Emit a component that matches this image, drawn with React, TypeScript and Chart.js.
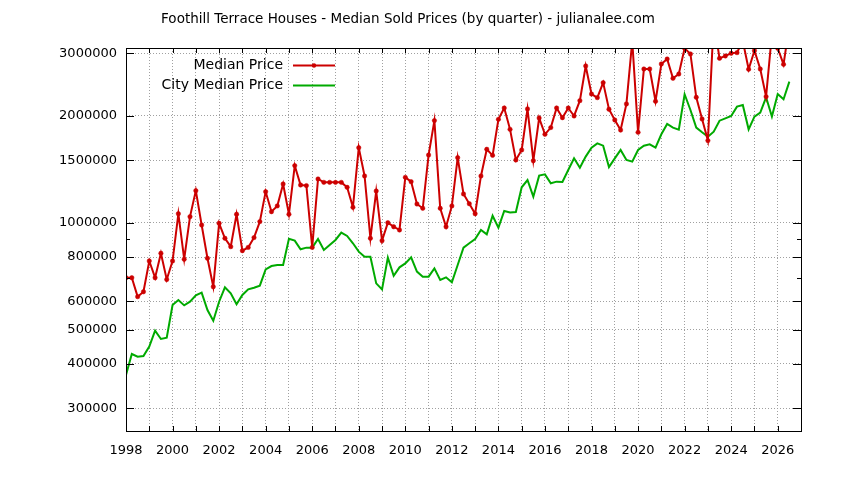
import React, { useEffect, useRef } from "react";
import { Chart, registerables } from "chart.js";

Chart.register(...registerables);

const TITLE = "Foothill Terrace Houses - Median Sold Prices (by quarter) - julianalee.com";
const SERIES_NAMES = ["Median Price", "City Median Price"];
const SERIES_COLORS = ["#cc0000", "#00aa00"];

// one value per quarter, starting with the first quarter of 1998
const FIRST_YEAR = 1998;

const medianPrice = [
  700000, 700000, 619000, 639000,
  780000, 700000, 820000, 692000,
  780000, 1060000, 789000, 1040000,
  1231000, 985000, 794000, 660000,
  996000, 904000, 856000, 1056000,
  834000, 852000, 908000, 1007000,
  1223000, 1074000, 1115000, 1285000,
  1056000, 1448000, 1277000, 1272000,
  852000, 1328000, 1299000, 1299000,
  1299000, 1299000, 1258000, 1105000,
  1627000, 1354000, 904000, 1228000,
  890000, 1000000, 974000, 954000,
  1342000, 1305000, 1129000, 1098000,
  1551000, 1939000, 1098000, 974000,
  1115000, 1525000, 1205000, 1131000,
  1060000, 1354000, 1610000, 1548000,
  1955000, 2104000, 1832000, 1502000,
  1603000, 2091000, 1495000, 1972000,
  1774000, 1853000, 2104000, 1976000,
  2104000, 1998000, 2207000, 2763000,
  2304000, 2250000, 2480000, 2087000,
  1947000, 1824000, 2160000, 3250000,
  1797000, 2710000, 2710000, 2198000,
  2799000, 2891000, 2551000, 2623000,
  3099000, 2987000, 2255000, 1959000,
  1703000, 3700000, 2904000, 2949000,
  3000000, 3013000, 3250000, 2705000,
  3052000, 2710000, 2265000, 3400000,
  3100000, 2793000, 3600000,
];

const cityMedianPrice = [
  372600, 426700, 419300, 421000,
  447600, 496500, 470400, 474500,
  586500, 605700, 585000, 599000,
  624200, 635100, 567600, 529500,
  599000, 657700, 632400, 589000,
  625700, 649000, 656000, 664600,
  738900, 755000, 760300, 760300,
  901400, 890000, 841500, 850700,
  850700, 899500, 837900, 865400,
  894000, 937500, 917500, 875100,
  828900, 802300, 802300, 674800,
  649000, 797000, 709100, 748600,
  768200, 799000, 728100, 704700,
  704700, 743600, 689700, 701700,
  679200, 760300, 850700, 875100,
  899500, 953800, 927400, 1046000,
  968500, 1079000, 1069000, 1072000,
  1258000, 1319000, 1184000, 1357000,
  1368000, 1291000, 1305000, 1302000,
  1407000, 1518000, 1429000, 1535000,
  1627000, 1673000, 1648000, 1435000,
  1518000, 1603000, 1502000, 1486000,
  1603000, 1648000, 1663000, 1627000,
  1774000, 1897000, 1853000, 1829000,
  2300000, 2077000, 1853000, 1797000,
  1747000, 1805000, 1938000, 1968000,
  1998000, 2123000, 2146000, 1832000,
  1990000, 2042000, 2255000, 1990000,
  2304000, 2226000, 2496000,
];

const yTickValues = [300000, 400000, 500000, 600000, 800000, 1000000, 1500000, 2000000, 3000000];
const yMinorTicks = [700000, 900000];
const X_MIN = 1998;
const X_MAX = 2027;
const Y_MIN = 259000;
const Y_MAX = 3105000;

const FONT = "DejaVu Sans";

const toPoints = (values: number[]) =>
  values.map((v, i) => ({ x: FIRST_YEAR + i / 4, y: v }));

// gnuplot-like frame: border, inward ticks on all sides, key and title
const framePlugin = {
  id: "gnuplotFrame",
  afterDraw(chart: any) {
    const { ctx, chartArea: a, scales } = chart;
    const xs = scales.x;
    const ys = scales.y;
    ctx.save();
    ctx.strokeStyle = "#000";
    ctx.lineWidth = 1;
    ctx.beginPath();
    const yTick = (v: number, len: number) => {
      const y = Math.round(ys.getPixelForValue(v)) + 0.5;
      ctx.moveTo(a.left, y);
      ctx.lineTo(a.left + len, y);
      ctx.moveTo(a.right, y);
      ctx.lineTo(a.right - len, y);
    };
    yTickValues.forEach((v) => yTick(v, 8));
    yMinorTicks.forEach((v) => yTick(v, 4));
    for (let yr = X_MIN + 1; yr < X_MAX; yr++) {
      const x = Math.round(xs.getPixelForValue(yr)) + 0.5;
      ctx.moveTo(x, a.bottom);
      ctx.lineTo(x, a.bottom - 5);
      ctx.moveTo(x, a.top);
      ctx.lineTo(x, a.top + 5);
    }
    ctx.stroke();
    ctx.strokeRect(
      Math.round(a.left) + 0.5,
      Math.round(a.top) + 0.5,
      Math.round(a.right - a.left),
      Math.round(a.bottom - a.top)
    );

    ctx.fillStyle = "#000";
    ctx.textBaseline = "middle";
    ctx.textAlign = "center";
    ctx.font = `13.5px "${FONT}"`;
    ctx.fillText(TITLE, 408, 19);

    // key
    ctx.font = `14px "${FONT}"`;
    const rows = [65.5, 85.5];
    SERIES_NAMES.forEach((name, i) => {
      const y = rows[i];
      ctx.textAlign = "right";
      ctx.fillStyle = "#000";
      ctx.fillText(name, 283, y);
      ctx.strokeStyle = SERIES_COLORS[i];
      ctx.lineWidth = 2;
      ctx.beginPath();
      ctx.moveTo(293, Math.round(y) - 0.5);
      ctx.lineTo(335, Math.round(y) - 0.5);
      ctx.stroke();
      if (i === 0) {
        ctx.fillStyle = SERIES_COLORS[i];
        ctx.beginPath();
        ctx.arc(314, Math.round(y) - 0.5, 2.2, 0, Math.PI * 2);
        ctx.fill();
      }
    });
    ctx.restore();
  },
};

const App: React.FC = () => {
  const chartRef = useRef<HTMLCanvasElement | null>(null);

  useEffect(() => {
    if (!chartRef.current) return;

    const chart = new Chart(chartRef.current, {
      type: "line",
      data: {
        datasets: [
          {
            label: SERIES_NAMES[0],
            data: toPoints(medianPrice),
            borderColor: SERIES_COLORS[0],
            backgroundColor: SERIES_COLORS[0],
            borderWidth: 2,
            pointRadius: 2.2,
            pointBorderWidth: 0.5,
            pointBackgroundColor: SERIES_COLORS[0],
            tension: 0,
          },
          {
            label: SERIES_NAMES[1],
            data: toPoints(cityMedianPrice),
            borderColor: SERIES_COLORS[1],
            backgroundColor: SERIES_COLORS[1],
            borderWidth: 2,
            pointRadius: 0,
            tension: 0,
          },
        ],
      },
      options: {
        animation: false,
        responsive: false,
        layout: { padding: { top: 48, right: 43, bottom: 0, left: 0 } },
        plugins: {
          legend: { display: false },
          title: { display: false },
          tooltip: { enabled: false },
        },
        scales: {
          x: {
            type: "linear",
            min: X_MIN,
            max: X_MAX,
            afterFit: (s: any) => {
              s.height = 49;
            },
            ticks: {
              stepSize: 1,
              autoSkip: false,
              maxRotation: 0,
              padding: 12,
              color: "#000",
              font: { family: FONT, size: 13 },
              callback: (v: any) => (Number(v) % 2 === 0 && Number(v) < X_MAX ? String(v) : ""),
            },
            grid: { color: "#a0a0a0", lineWidth: 1, drawTicks: false },
            border: { display: false, dash: [1, 2] },
          },
          y: {
            type: "logarithmic",
            min: Y_MIN,
            max: Y_MAX,
            afterFit: (s: any) => {
              s.width = 126;
            },
            afterBuildTicks: (s: any) => {
              s.ticks = [...yTickValues, ...yMinorTicks]
                .sort((p, q) => p - q)
                .map((value) => ({ value }));
            },
            ticks: {
              autoSkip: false,
              padding: 9,
              color: "#000",
              font: { family: FONT, size: 13 },
              callback: (v: any) => (yMinorTicks.includes(Number(v)) ? "" : String(v)),
            },
            grid: {
              color: (c: any) =>
                c.tick && yMinorTicks.includes(c.tick.value) ? "rgba(0,0,0,0)" : "#a0a0a0",
              lineWidth: 1,
              drawTicks: false,
            },
            border: { display: false, dash: [1, 2] },
          },
        },
      },
      plugins: [framePlugin],
    });

    return () => {
      chart.destroy();
    };
  }, []);

  return (
    <div style={{ position: "absolute", left: 0, top: 0, width: 844, height: 480, background: "#fff" }}>
      <canvas ref={chartRef} width={844} height={480} />
    </div>
  );
};

export default App;
